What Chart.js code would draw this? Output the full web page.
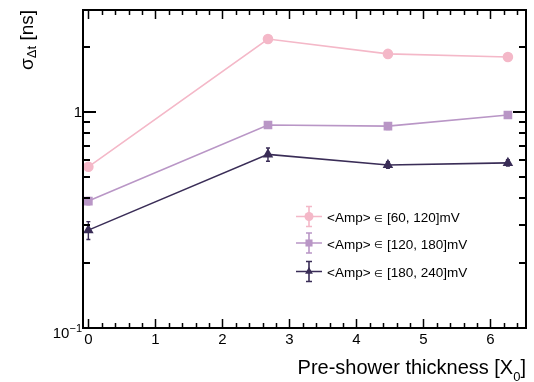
<!DOCTYPE html>
<html>
<head>
<meta charset="utf-8">
<script src="https://cdn.jsdelivr.net/npm/chart.js@4"></script>
<style>
  html, body { margin: 0; padding: 0; background: #fff; }
  #wrap { width: 534px; height: 382px; position: relative; }
</style>
</head>
<body>
<div id="wrap"><canvas id="chart"></canvas></div>
<script>
'use strict';

// Pre-shower thickness in radiation lengths
let thickness = [0, 2.68, 4.47, 6.26];

// Time resolution per amplitude bin [ns]
let sigmaLow = [0.558, 2.18, 1.86, 1.80];
let sigmaMid = [0.387, 0.871, 0.861, 0.969];
let sigmaHigh = [0.284, 0.637, 0.569, 0.582];

// Errors on the resolution [ns]
let errLow = [0.020, 0.050, 0.050, 0.050];
let errMid = [0.015, 0.030, 0.030, 0.030];
let errHigh = [0.027, 0.045, 0.020, 0.020];

let binLabels = ['<Amp> \u2208 [60, 120]mV', '<Amp> \u2208 [120, 180]mV', '<Amp> \u2208 [180, 240]mV'];
let colors = ['#f4b8c8', '#b996c6', '#3a2d57'];
let markers = ['circle', 'rect', 'triangle'];
let markerSize = [4.5, 5, 4.5];

// x axis range and tick labels
let xMin = -0.08;
let xMax = 6.53;
let xTickLabels = [0, 1, 2, 3, 4, 5, 6];
let yMin = 0.1;
let yMax = 2.97;

const FONT = '"Liberation Sans", Arial, sans-serif';

function makeDataset(i, values, errs) {
  return {
    label: binLabels[i],
    data: thickness.map((x, k) => ({ x: x, y: values[k], err: errs[k] })),
    borderColor: colors[i],
    backgroundColor: colors[i],
    borderWidth: 1.6,
    pointStyle: markers[i],
    pointRadius: markerSize[i],
    pointHoverRadius: markerSize[i],
    tension: 0
  };
}

// vertical error bars with small caps
const errorBars = {
  id: 'errorBars',
  afterDatasetsDraw(chart) {
    const ctx = chart.ctx;
    const ys = chart.scales.y;
    const xs = chart.scales.x;
    chart.data.datasets.forEach((ds) => {
      ctx.save();
      ctx.strokeStyle = ds.borderColor;
      ctx.lineWidth = 1.4;
      ds.data.forEach((p) => {
        const px = xs.getPixelForValue(p.x);
        const top = ys.getPixelForValue(p.y + p.err);
        const bot = ys.getPixelForValue(p.y - p.err);
        ctx.beginPath();
        ctx.moveTo(px, top);
        ctx.lineTo(px, bot);
        ctx.moveTo(px - 2, top);
        ctx.lineTo(px + 2, top);
        ctx.moveTo(px - 2, bot);
        ctx.lineTo(px + 2, bot);
        ctx.stroke();
      });
      ctx.restore();
    });
  }
};

// frame, inward ticks, axis labels and legend
const frame = {
  id: 'frame',
  afterDraw(chart) {
    const ctx = chart.ctx;
    const a = chart.chartArea;
    const xs = chart.scales.x;
    const ys = chart.scales.y;
    ctx.save();
    ctx.strokeStyle = '#000';
    ctx.lineWidth = 2;
    ctx.strokeRect(a.left, a.top, a.right - a.left, a.bottom - a.top);

    // x ticks, bottom and top
    ctx.lineWidth = 1.5;
    ctx.beginPath();
    for (let i = 0; i <= 32; i++) {
      const v = i * 0.2;
      const px = Math.round(xs.getPixelForValue(v)) + 0.5;
      const len = (i % 5 === 0) ? 9 : 5;
      ctx.moveTo(px, a.bottom);
      ctx.lineTo(px, a.bottom - len);
      ctx.moveTo(px, a.top);
      ctx.lineTo(px, a.top + len);
    }
    ctx.stroke();

    // y ticks, left and right
    let yTicks = [];
    for (let d = 0.1; d < 10; d *= 10) {
      for (let m = 1; m <= 9; m++) {
        const v = +(m * d).toFixed(3);
        if (v >= yMin && v <= yMax) yTicks.push({ v: v, major: m === 1 });
      }
    }
    ctx.lineWidth = 2;
    ctx.beginPath();
    yTicks.forEach((t) => {
      const py = Math.round(ys.getPixelForValue(t.v));
      const len = t.major ? 13 : 7;
      ctx.moveTo(a.left, py);
      ctx.lineTo(a.left + len, py);
      ctx.moveTo(a.right, py);
      ctx.lineTo(a.right - len, py);
    });
    ctx.stroke();

    // x tick labels
    ctx.fillStyle = '#000';
    ctx.font = '15px ' + FONT;
    ctx.textAlign = 'center';
    ctx.textBaseline = 'alphabetic';
    xTickLabels.forEach((v) => {
      ctx.fillText(String(v), xs.getPixelForValue(v), 344);
    });

    // y tick labels
    ctx.textAlign = 'right';
    ctx.textBaseline = 'middle';
    ctx.fillText('1', 82, ys.getPixelForValue(1) + 1);
    ctx.textBaseline = 'alphabetic';
    ctx.font = '11px ' + FONT;
    ctx.fillText('\u22121', 82, 332);
    const supW = ctx.measureText('\u22121').width;
    ctx.font = '15px ' + FONT;
    ctx.fillText('10', 82 - supW, 338);

    // x title
    ctx.font = '20px ' + FONT;
    const endW = ctx.measureText(']').width;
    ctx.font = '13px ' + FONT;
    const subW = ctx.measureText('0').width;
    ctx.textAlign = 'right';
    ctx.font = '20px ' + FONT;
    ctx.fillText(']', 526, 374);
    ctx.font = '13px ' + FONT;
    ctx.fillText('0', 526 - endW, 381);
    ctx.font = '20px ' + FONT;
    ctx.fillText('Pre-shower thickness [X', 526 - endW - subW, 374);

    // y title, rotated
    ctx.save();
    ctx.translate(33, 10);
    ctx.rotate(-Math.PI / 2);
    ctx.textAlign = 'left';
    ctx.font = '19px ' + FONT;
    const wSig = ctx.measureText('\u03c3').width;
    const wNs = ctx.measureText(' [ns]').width;
    ctx.font = '13px ' + FONT;
    const wDt = ctx.measureText('\u0394t').width;
    let x0 = -(wSig + wDt + wNs);
    ctx.font = '19px ' + FONT;
    ctx.fillText('\u03c3', x0, 0);
    ctx.font = '13px ' + FONT;
    ctx.fillText('\u0394t', x0 + wSig, 3);
    ctx.font = '19px ' + FONT;
    ctx.fillText(' [ns]', x0 + wSig + wDt, 0);
    ctx.restore();

    // legend: the set symbol is set a bit smaller than the text
    const rowY = [216.5, 243, 271.5];
    const sx = 309;
    chart.data.datasets.forEach((ds, i) => {
      const y = rowY[i];
      ctx.strokeStyle = ds.borderColor;
      ctx.fillStyle = ds.backgroundColor;
      ctx.lineWidth = 1.6;
      ctx.beginPath();
      ctx.moveTo(296, y);
      ctx.lineTo(322, y);
      ctx.moveTo(sx, y - 10);
      ctx.lineTo(sx, y + 10);
      ctx.moveTo(sx - 3, y - 10);
      ctx.lineTo(sx + 3, y - 10);
      ctx.moveTo(sx - 3, y + 10);
      ctx.lineTo(sx + 3, y + 10);
      ctx.stroke();
      Chart.helpers.drawPoint(ctx, { pointStyle: ds.pointStyle, radius: ds.pointRadius, borderWidth: 0 }, sx, y);

      ctx.fillStyle = '#000';
      ctx.textAlign = 'left';
      ctx.textBaseline = 'alphabetic';
      const parts = ds.label.split('\u2208');
      let tx = 327;
      const base = y + 5.5;
      ctx.font = '13.5px ' + FONT;
      ctx.fillText(parts[0], tx, base);
      tx += ctx.measureText(parts[0]).width;
      ctx.font = '10px ' + FONT;
      ctx.fillText('\u2208', tx, base - 0.5);
      tx += ctx.measureText('\u2208').width;
      ctx.font = '13.5px ' + FONT;
      ctx.fillText(parts[1], tx, base);
    });
    ctx.restore();
  }
};

const chart = new Chart(document.getElementById('chart'), {
  type: 'line',
  data: {
    datasets: [
      makeDataset(0, sigmaLow, errLow),
      makeDataset(1, sigmaMid, errMid),
      makeDataset(2, sigmaHigh, errHigh)
    ]
  },
  options: {
    responsive: true,
    maintainAspectRatio: false,
    animation: false,
    layout: { padding: { left: 83, right: 8, top: 10, bottom: 54 } },
    plugins: {
      legend: { display: false },
      tooltip: { enabled: false }
    },
    scales: {
      x: { type: 'linear', min: xMin, max: xMax, display: false },
      y: { type: 'logarithmic', min: yMin, max: yMax, display: false }
    }
  },
  plugins: [errorBars, frame]
});
</script>
</body>
</html>
